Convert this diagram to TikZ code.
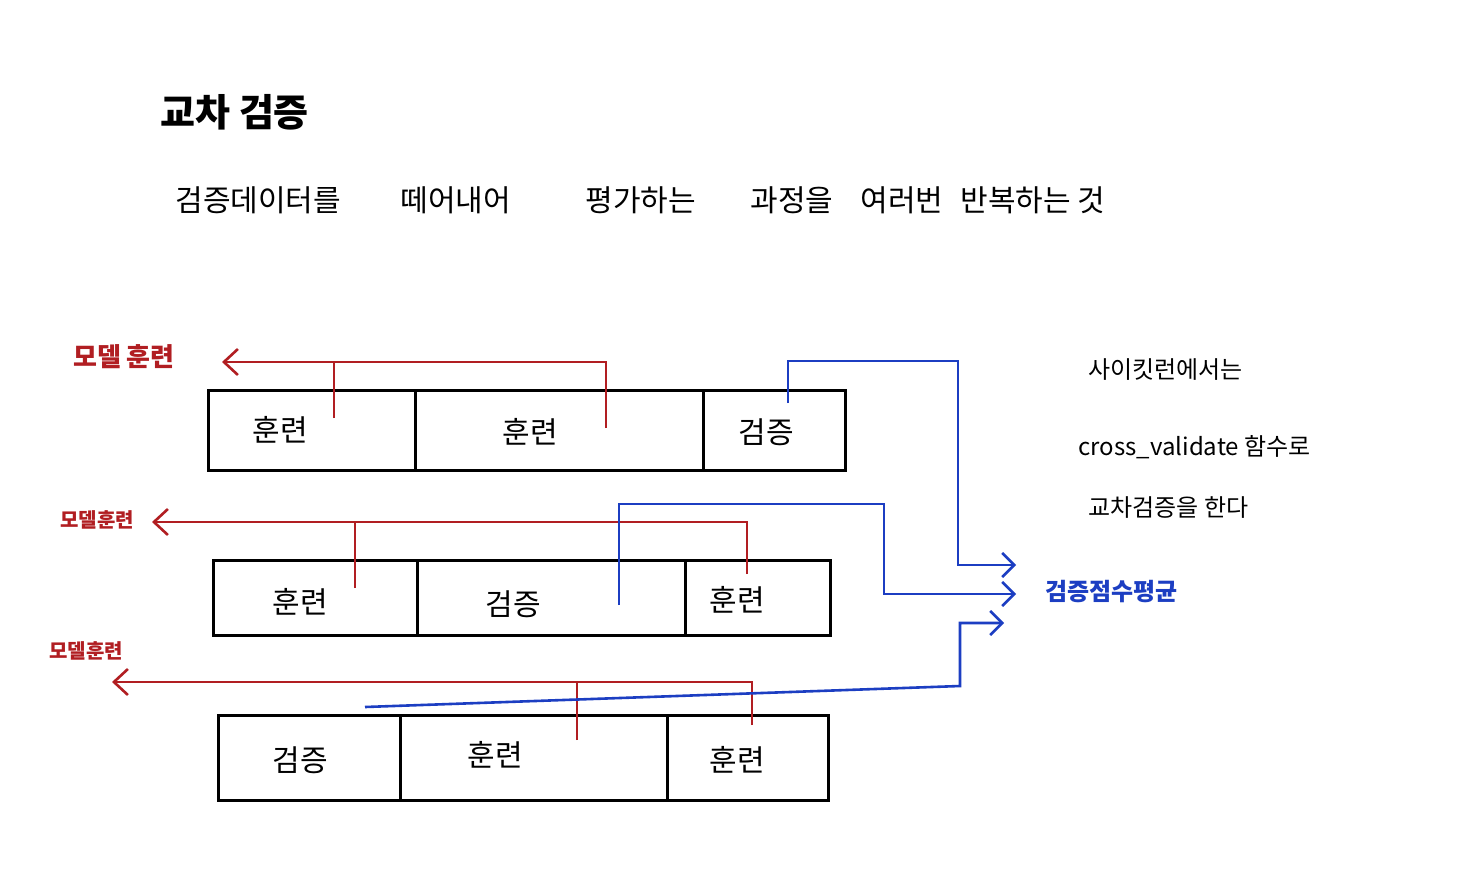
\documentclass[tikz,border=0pt]{standalone}
\usepackage{fontspec}
\setmainfont{Noto Sans CJK KR}
\usepackage{tikz}
\usetikzlibrary{arrows.meta}
\definecolor{PenRed}{HTML}{B11E22}
\definecolor{PenBlue}{HTML}{1C3EC2}
\tikzset{
  cell/.style={
    rectangle, draw=black, line width=1.5pt,
    inner sep=0pt, outer sep=0pt, minimum height=#1
  },
  cell/.default=40pt,
  part/.style={inner sep=0pt, font=\fontsize{15}{15}\selectfont},
  note/.style={anchor=west, inner sep=0pt, font=\fontsize{#1}{#1}\selectfont},
  note/.default=15,
  redLbl/.style={inner sep=0pt, text=PenRed, font=\fontsize{#1}{#1}\selectfont\bfseries},
  rLine/.style={line width=1.3pt, color=PenRed},
  rArr/.style={-{Straight Barb[length=7pt, width=13pt]}, line width=1.3pt, color=PenRed},
  bArr/.style={-{Straight Barb[length=6pt, width=12pt]}, line width=1.3pt, color=PenBlue},
}

\begin{document}
\begin{tikzpicture}[x=0.5pt, y=-0.5pt]

\useasboundingbox[fill=white] (0,0) rectangle (1459,878);

% title and the line below it
\node[note=19, font=\fontsize{19}{19}\selectfont\bfseries] at (160,112) (title) {교차 검증};
\node[note] at (175,200) (w1) {검증데이터를};
\node[note] at (400,200) (w2) {떼어내어};
\node[note] at (585,200) (w3) {평가하는};
\node[note] at (750,200) (w4) {과정을};
\node[note] at (860,200) (w5) {여러번};
\node[note] at (960,200) (w6) {반복하는 것};

% three folds
\node[cell, minimum width=103.5pt] at (311.5,430) (r1a) {};
\node[cell, minimum width=144pt] at (559,430) (r1b) {};
\node[cell, minimum width=71pt] at (774,430) (r1c) {};
\node[part] at (280,430) (p1a) {훈련};
\node[part] at (530,432) (p1b) {훈련};
\node[part] at (766,432) (p1c) {검증};

\node[cell=37.5pt, minimum width=102pt] at (315,597.5) (r2a) {};
\node[cell=37.5pt, minimum width=134pt] at (551,597.5) (r2b) {};
\node[cell=37.5pt, minimum width=72.5pt] at (757.5,597.5) (r2c) {};
\node[part] at (300,602) (p2a) {훈련};
\node[part] at (513,604) (p2b) {검증};
\node[part] at (737,600) (p2c) {훈련};

\node[cell=42.5pt, minimum width=91pt] at (309,757.5) (r3a) {};
\node[cell=42.5pt, minimum width=133.5pt] at (533.5,757.5) (r3b) {};
\node[cell=42.5pt, minimum width=80.5pt] at (747.5,757.5) (r3c) {};
\node[part] at (300,760) (p3a) {검증};
\node[part] at (495,755) (p3b) {훈련};
\node[part] at (737,760) (p3c) {훈련};

% model training labels
\node[redLbl=13] at (124,357) (fit1) {모델 훈련};
\node[redLbl=10] at (97,520) (fit2) {모델훈련};
\node[redLbl=10] at (86,651) (fit3) {모델훈련};

\coordinate (a1) at (334,418);
\coordinate (a2) at (606,428);
\coordinate (m1) at (222,362);
\draw[rArr] (a2) |- (m1);
\draw[rLine] (a1) -- (a1 |- m1);

\coordinate (a3) at (355,588);
\coordinate (a4) at (747,574);
\coordinate (m2) at (152,522);
\draw[rArr] (a4) |- (m2);
\draw[rLine] (a3) -- (a3 |- m2);

\coordinate (a5) at (577,740);
\coordinate (a6) at (752,725);
\coordinate (m3) at (112,682);
\draw[rArr] (a6) |- (m3);
\draw[rLine] (a5) -- (a5 |- m3);

% validation scores
\node[redLbl=12, text=PenBlue, anchor=west] at (1045,592) (avg) {검증점수평균};

\coordinate (s1) at (788,403);
\coordinate (k1) at (958,361);
\coordinate (e1) at (1016,565);
\draw[bArr] (s1) |- (k1) |- (e1);

\coordinate (s2) at (619,605);
\coordinate (k2) at (884,504);
\coordinate (e2) at (1016,594);
\draw[bArr] (s2) |- (k2) |- (e2);

\coordinate (s3) at (365,707);
\coordinate (k3) at (960,686);
\coordinate (e3) at (1004,623);
\draw[bArr] (s3) -- (k3) |- (e3);

% note on the right
\node[note=12] at (1088,370) (n1) {사이킷런에서는};
\node[note=12] at (1078,447) (n2) {cross\_validate 함수로};
\node[note=12] at (1088,508) (n3) {교차검증을 한다};

\end{tikzpicture}
\end{document}
